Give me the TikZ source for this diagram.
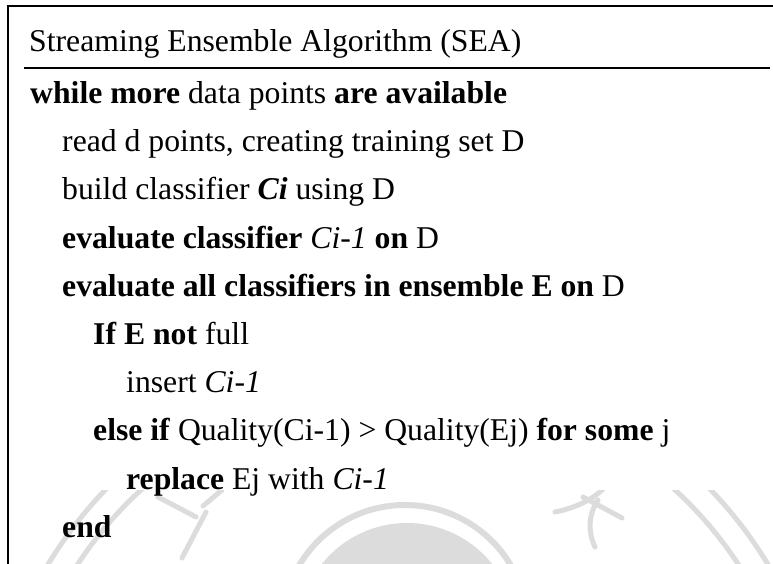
\documentclass[tikz,border=0pt]{standalone}
\usepackage{fontspec}
\setmainfont{Liberation Serif}
\definecolor{wmgray}{RGB}{220,220,220}
\begin{document}
\begin{tikzpicture}[x=1pt,y=-1pt,
  txt/.style={inner sep=0pt, anchor=base west, font=\fontsize{31.7}{38}\selectfont},
  frame/.style={line width=2pt, black},
  wm/.style={draw=wmgray, line width=5pt}]
\useasboundingbox (0,0) rectangle (773,564);
\fill[white] (0,0) rectangle (773,564);
% watermark (seal), visible only below the text area
\begin{scope}
  \clip (0,490) rectangle (773,564);
  \fill[wmgray] (407,632) circle (109);
  \draw[wm, line width=6pt] (405,628) circle (123);
  \draw[wm] (408,781) circle (395);
  \draw[wm] (408,781) circle (420);
  % character strokes, left
  \draw[wm, line cap=round] (158,497) -- (196,517);
  \draw[wm, line cap=round] (222,490) -- (203,506);
  \draw[wm, line cap=round] (206,512) -- (182,558);
  % character strokes, right
  \draw[wm, line cap=round] (555,512) .. controls (575,508) and (592,500) .. (603,489);
  \draw[wm, line cap=round] (583,497) -- (622,518);
  \draw[wm, line cap=round] (598,500) .. controls (588,515) and (588,532) .. (595,547);
\end{scope}
% frame
\coordinate (tl) at (8,6);
\coordinate (tr) at (773,6);
\coordinate (bl) at (8,564);
\coordinate (ul) at (24,68);
\coordinate (ur) at (770,68);
\draw[frame] (bl) -- (tl) -- (tr);
\draw[line width=2.6pt] (ul) -- (ur);
% text
\node[txt] (title) at (29,52) {Streaming Ensemble Algorithm (SEA)};
\node[txt] (l1) at (30,103.5) {\textbf{while more} data points \textbf{are available}};
\node[txt] (l2) at (62,151.7) {read d points, creating training set D};
\node[txt] (l3) at (62,199.9) {build classifier \textbf{\textit{Ci}} using D};
\node[txt] (l4) at (62,248.1) {\textbf{evaluate classifier} \textit{Ci-1} \textbf{on} D};
\node[txt] (l5) at (62,296.3) {\textbf{evaluate all classifiers in ensemble E on} D};
\node[txt] (l6) at (93,344.5) {\textbf{If E not} full};
\node[txt] (l7) at (126,392.7) {insert \textit{Ci-1}};
\node[txt] (l8) at (93,440.9) {\textbf{else if} Quality(Ci-1) > Quality(Ej) \textbf{for some} j};
\node[txt] (l9) at (126,489.1) {\textbf{replace} Ej with \textit{Ci-1}};
\node[txt] (l10) at (62,537.3) {\textbf{end}};
\end{tikzpicture}
\end{document}
